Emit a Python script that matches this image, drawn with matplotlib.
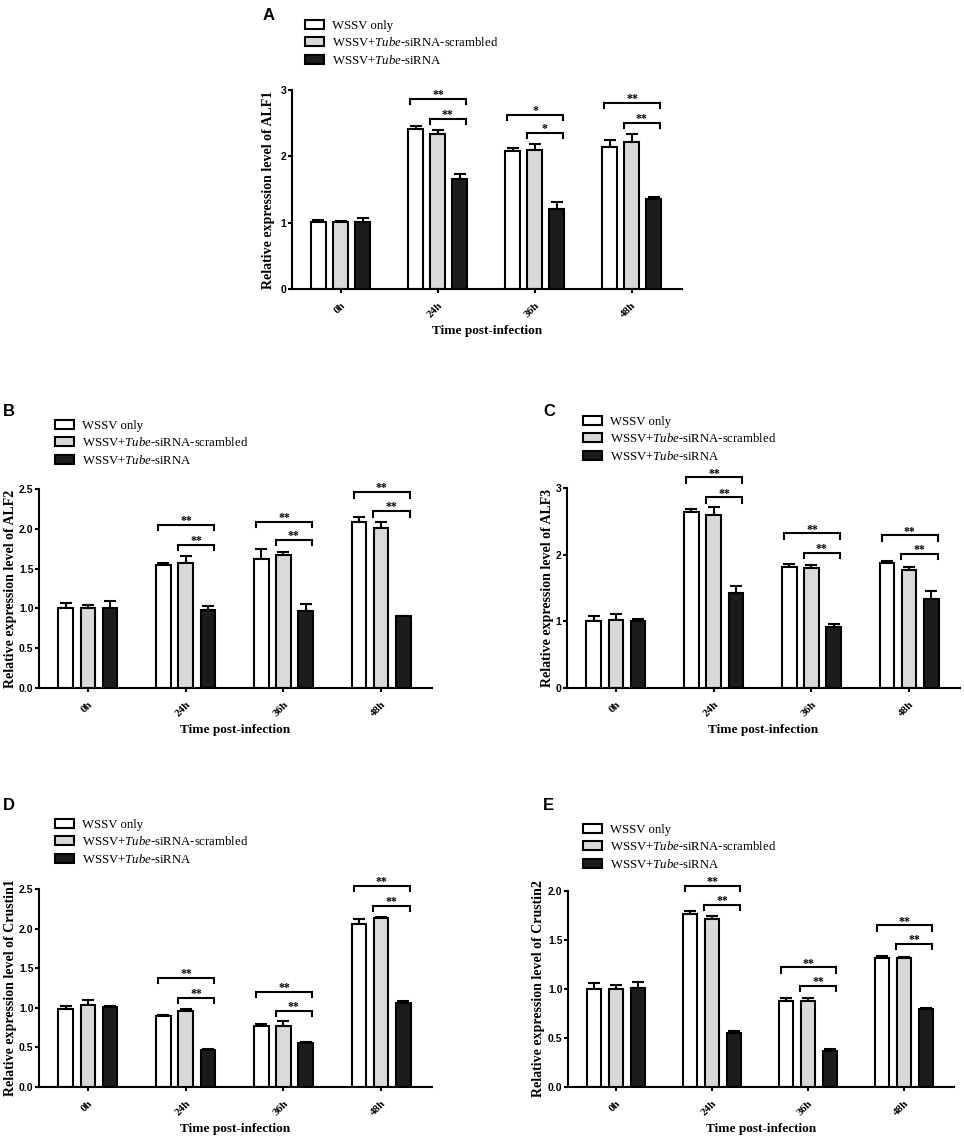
import matplotlib
matplotlib.use("Agg")
import matplotlib.pyplot as plt
from matplotlib.patches import Patch

plt.rcParams['font.family'] = 'Liberation Serif'
plt.rcParams['mathtext.fontset'] = 'custom'
plt.rcParams['mathtext.rm'] = 'Liberation Serif'
plt.rcParams['mathtext.it'] = 'Liberation Serif:italic'

# DATA
time_points = ["0h", "24h", "36h", "48h"]
group_labels = ["WSSV only",
                "WSSV+$\\mathit{Tube}$-siRNA-scrambled",
                "WSSV+$\\mathit{Tube}$-siRNA"]

# rows: WSSV only, scrambled, siRNA
alf1_mean = [[1.01, 2.41, 2.08, 2.14], [1.01, 2.34, 2.09, 2.21], [1.01, 1.66, 1.20, 1.36]]
alf1_err = [[0.03, 0.04, 0.05, 0.10], [0.02, 0.06, 0.10, 0.13], [0.06, 0.08, 0.11, 0.02]]
alf1_big = [2.87, 2.63, 2.81]    # bracket WSSV only vs siRNA at 24h, 36h, 48h
alf1_small = [2.57, 2.35, 2.51]  # bracket scrambled vs siRNA
alf1_stars = ["**", "*", "**"]

alf2_mean = [[1.00, 1.54, 1.62, 2.09], [1.00, 1.57, 1.67, 2.01], [1.00, 0.98, 0.97, 0.90]]
alf2_err = [[0.07, 0.03, 0.13, 0.06], [0.04, 0.09, 0.04, 0.08], [0.09, 0.05, 0.09, 0.01]]
alf2_big = [2.05, 2.09, 2.46]
alf2_small = [1.80, 1.86, 2.22]
alf2_stars = ["**", "**", "**"]

alf3_mean = [[1.00, 2.64, 1.82, 1.88], [1.02, 2.59, 1.80, 1.77], [1.00, 1.43, 0.91, 1.34]]
alf3_err = [[0.08, 0.04, 0.04, 0.02], [0.09, 0.12, 0.04, 0.04], [0.04, 0.10, 0.05, 0.11]]
alf3_big = [3.16, 2.32, 2.29]
alf3_small = [2.86, 2.03, 2.01]
alf3_stars = ["**", "**", "**"]

cru1_mean = [[0.98, 0.90, 0.77, 2.06], [1.04, 0.955, 0.77, 2.13], [1.01, 0.47, 0.555, 1.065]]
cru1_err = [[0.04, 0.01, 0.02, 0.06], [0.06, 0.035, 0.06, 0.02], [0.01, 0.01, 0.015, 0.015]]
cru1_big = [1.38, 1.20, 2.54]
cru1_small = [1.13, 0.96, 2.29]
cru1_stars = ["**", "**", "**"]

cru2_mean = [[1.00, 1.77, 0.88, 1.32], [1.00, 1.71, 0.88, 1.32], [1.01, 0.55, 0.37, 0.80]]
cru2_err = [[0.06, 0.03, 0.03, 0.02], [0.04, 0.04, 0.03, 0.01], [0.06, 0.02, 0.02, 0.01]]
cru2_big = [2.05, 1.22, 1.65]
cru2_small = [1.86, 1.03, 1.46]
cru2_stars = ["**", "**", "**"]

# STYLE
BAR_COLORS = ["white", "#d9d9d9", "#1c1c1c"]
BAR_WIDTH = 0.15
BAR_STEP = 0.227
FIG_W, FIG_H = 964, 1139


def fig_rect(left, top, right, bottom):
    return [left / FIG_W, 1 - bottom / FIG_H, (right - left) / FIG_W, (bottom - top) / FIG_H]


def draw_panel(fig, box, means, errs, big, small, stars, ylim, yticks, ytick_fmt,
               ylabel, ylabel_px, letter, letter_xy, legend_xy):
    ax = fig.add_axes(fig_rect(*box))
    x = list(range(len(time_points)))
    for i in range(3):
        xs = [g + (i - 1) * BAR_STEP for g in x]
        ax.bar(xs, means[i], width=BAR_WIDTH, color=BAR_COLORS[i],
               edgecolor="black", linewidth=1.5, zorder=2)
        ax.errorbar(xs, means[i], yerr=[[0] * 4, errs[i]], fmt="none",
                    ecolor="black", elinewidth=1.5, capsize=4.5, capthick=1.5, zorder=1)

    # significance brackets (24h, 36h, 48h)
    span = ylim[1] - ylim[0]
    tick_h = 0.027 * span
    for k, g in enumerate([1, 2, 3]):
        for (x0, x1, yb) in [(g - 0.28, g + 0.29, big[k]), (g - 0.08, g + 0.29, small[k])]:
            ax.plot([x0, x0, x1, x1], [yb - tick_h, yb, yb, yb - tick_h],
                    color="black", lw=1.5, clip_on=False, solid_joinstyle="miter")
            ax.text((x0 + x1) / 2, yb + 0.004 * span, stars[k], ha="center", va="baseline",
                    fontsize=8.5, fontweight="bold", clip_on=False)

    ax.set_xlim(-0.5, 3.52)
    ax.set_ylim(*ylim)
    ax.set_yticks(yticks)
    ax.set_yticklabels([ytick_fmt.format(v) for v in yticks],
                       family="Liberation Sans", fontweight="bold", fontsize=7.5)
    ax.set_xticks(x)
    ax.set_xticklabels(time_points, rotation=45, ha="right", va="top",
                       rotation_mode="anchor", fontweight="bold", fontsize=8)
    ax.tick_params(axis="both", direction="out", width=1.5, length=3)
    ax.tick_params(axis="y", pad=1)
    ax.tick_params(axis="x", pad=5.5)
    for side in ["top", "right"]:
        ax.spines[side].set_visible(False)
    for side in ["left", "bottom"]:
        ax.spines[side].set_linewidth(1.5)
    ax.set_ylabel(ylabel, fontweight="bold", fontsize=10)
    ax.yaxis.set_label_coords((ylabel_px - box[0]) / (box[2] - box[0]), 0.5)
    ax.set_xlabel("Time post-infection", fontweight="bold", fontsize=9.5, labelpad=4)

    fig.text(letter_xy[0] / FIG_W, 1 - letter_xy[1] / FIG_H, letter,
             family="Liberation Sans", fontweight="bold", fontsize=12,
             ha="left", va="center")
    handles = [Patch(facecolor=c, edgecolor="black", linewidth=1.5) for c in BAR_COLORS]
    fig.legend(handles, group_labels, loc="upper left",
               bbox_to_anchor=(legend_xy[0] / FIG_W, 1 - legend_xy[1] / FIG_H),
               frameon=False, fontsize=9.2, handlelength=1.5, handleheight=0.72,
               handletextpad=0.6, labelspacing=0.34, borderpad=0, borderaxespad=0)
    return ax


fig = plt.figure(figsize=(FIG_W / 100, FIG_H / 100), dpi=100)
fig.patch.set_facecolor("white")

draw_panel(fig, (292, 90, 682, 289), alf1_mean, alf1_err, alf1_big, alf1_small,
           alf1_stars, (0, 3), [0, 1, 2, 3], "{:.0f}", "Relative expression level of ALF1",
           275, "A", (263, 15), (305, 20))
draw_panel(fig, (39, 489, 432, 688), alf2_mean, alf2_err, alf2_big, alf2_small,
           alf2_stars, (0, 2.5), [0, 0.5, 1.0, 1.5, 2.0, 2.5], "{:.1f}",
           "Relative expression level of ALF2", 17, "B", (3, 412), (55, 420))
draw_panel(fig, (567, 488, 960, 688), alf3_mean, alf3_err, alf3_big, alf3_small,
           alf3_stars, (0, 3), [0, 1, 2, 3], "{:.0f}", "Relative expression level of ALF3",
           554, "C", (543, 412), (583, 416))
draw_panel(fig, (39, 889, 432, 1087), cru1_mean, cru1_err, cru1_big, cru1_small,
           cru1_stars, (0, 2.5), [0, 0.5, 1.0, 1.5, 2.0, 2.5], "{:.1f}",
           "Relative expression level of Crustin1", 17, "D", (3, 806), (55, 819))
draw_panel(fig, (568, 891, 954, 1087), cru2_mean, cru2_err, cru2_big, cru2_small,
           cru2_stars, (0, 2.0), [0, 0.5, 1.0, 1.5, 2.0], "{:.1f}",
           "Relative expression level of Crustin2", 545, "E", (543, 806), (583, 824))

fig.savefig("out.png", dpi=100, facecolor="white")
